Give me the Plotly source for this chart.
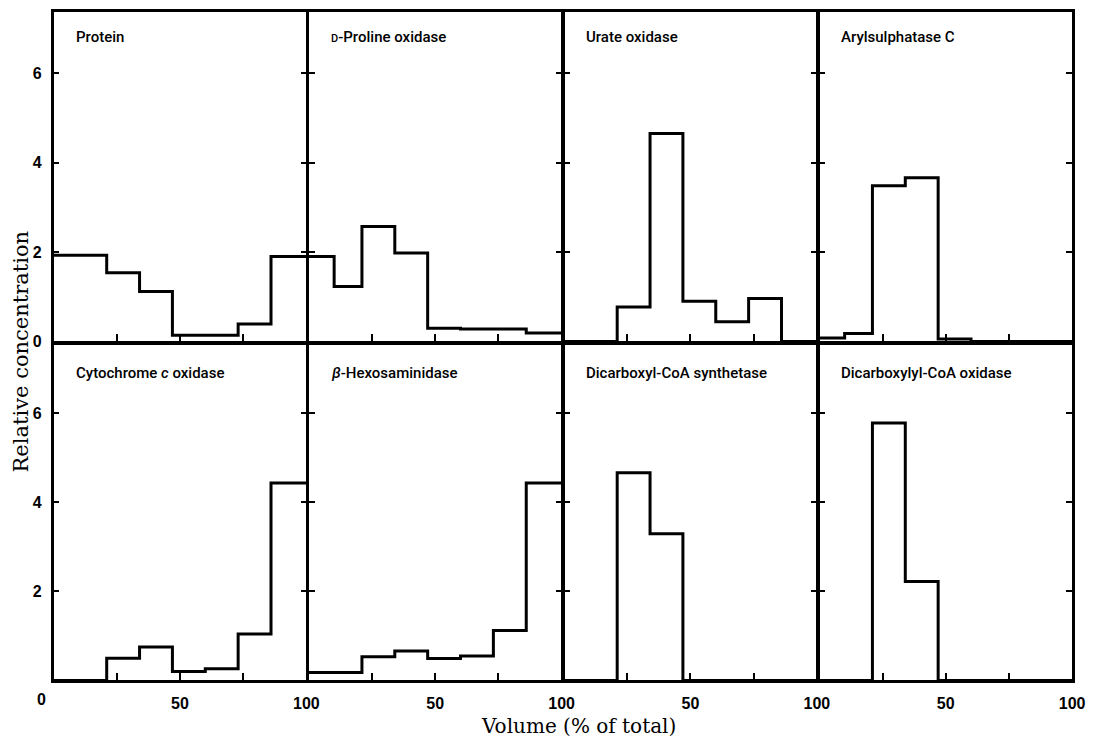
import plotly.graph_objects as go

# Fraction boundaries (% of total volume)
edges = [0, 10, 21, 34, 47, 60, 73, 86, 100]

panel_titles = [
    "Protein",
    "<span style='font-size:11px'>D</span>-Proline oxidase",
    "Urate oxidase",
    "Arylsulphatase C",
    "Cytochrome <i>c</i> oxidase",
    "<i>β</i>-Hexosaminidase",
    "Dicarboxyl-CoA synthetase",
    "Dicarboxylyl-CoA oxidase",
]

protein = [1.93, 1.93, 1.54, 1.12, 0.14, 0.14, 0.39, 1.90]
d_proline_oxidase = [1.90, 1.23, 2.57, 1.98, 0.30, 0.28, 0.28, 0.19]
urate_oxidase = [0, 0, 0.77, 4.65, 0.90, 0.44, 0.96, 0]
arylsulphatase_c = [0.08, 0.18, 3.48, 3.66, 0.06, 0, 0, 0]
cytochrome_c_oxidase = [0, 0, 0.50, 0.75, 0.20, 0.26, 1.04, 4.43]
hexosaminidase = [0.18, 0.18, 0.53, 0.66, 0.49, 0.55, 1.12, 4.43]
dicarboxyl_coa_synthetase = [0, 0, 4.66, 3.29, 0, 0, 0, 0]
dicarboxylyl_coa_oxidase = [0, 0, 5.78, 2.22, 0, 0, 0, 0]

series = [protein, d_proline_oxidase, urate_oxidase, arylsulphatase_c,
          cytochrome_c_oxidase, hexosaminidase, dicarboxyl_coa_synthetase,
          dicarboxylyl_coa_oxidase]

y_ticks = [0, 2, 4, 6]
x_ticks = [25, 50, 75, 100]
x_ticktext = ["", "50", "", "100"]

W, H = 1117, 745
LEFT, RIGHT = 53, 1086
TOP, MID, BOT = 11, 347, 690
LW = 2.5
pw = (RIGHT - LEFT) / 4

fig = go.Figure()
layout = dict(
    width=W, height=H, autosize=False,
    margin=dict(l=0, r=0, t=0, b=0, pad=0),
    paper_bgcolor="white", plot_bgcolor="white",
    showlegend=False,
    annotations=[],
)

tickfont = dict(family="Liberation Sans, Arial, sans-serif", size=16,
                color="black", weight="bold")
titlefont = dict(family="Roboto, Liberation Sans, Arial, sans-serif", size=15,
                 color="black", weight=500)
serif = dict(family="DejaVu Serif, serif", size=20, color="black")

for k in range(8):
    r, c = divmod(k, 4)
    n = k + 1
    xname = "xaxis" if n == 1 else f"xaxis{n}"
    yname = "yaxis" if n == 1 else f"yaxis{n}"
    xref = "x" if n == 1 else f"x{n}"
    yref = "y" if n == 1 else f"y{n}"
    px0 = LEFT + c * pw + LW / 2
    px1 = LEFT + (c + 1) * pw - LW / 2
    if r == 0:
        py0, py1 = TOP + LW / 2, MID - LW / 2
        yr = [0, 7.36]
    else:
        py0, py1 = MID + LW / 2, BOT - LW / 2
        yr = [0, 7.55]

    vals = series[k]
    fig.add_trace(go.Scatter(
        x=edges, y=vals + [vals[-1]], mode="lines", line_shape="hv",
        line=dict(color="black", width=3), xaxis=xref, yaxis=yref,
        hoverinfo="skip",
    ))

    layout[xname] = dict(
        domain=[px0 / W, px1 / W], anchor=yref, range=[0, 100],
        showgrid=False, zeroline=False,
        showline=True, linecolor="black", linewidth=LW, mirror=True,
        ticks="inside", ticklen=8, tickwidth=2, tickcolor="black",
        tickvals=x_ticks, ticktext=x_ticktext,
        showticklabels=(r == 1), tickfont=tickfont,
        ticklabelstandoff=7,
    )
    if c == 0:
        ytext = ["0", "2", "4", "6"] if r == 0 else ["", "2", "4", "6"]
    else:
        ytext = ["", "", "", ""]
    layout[yname] = dict(
        domain=[1 - py1 / H, 1 - py0 / H], anchor=xref, range=yr,
        showgrid=False, zeroline=False,
        showline=True, linecolor="black", linewidth=LW, mirror="ticks",
        ticks="inside", ticklen=6, tickwidth=2, tickcolor="black",
        tickvals=y_ticks, ticktext=ytext,
        showticklabels=(c == 0), tickfont=tickfont,
        ticklabelstandoff=6,
    )

    layout["annotations"].append(dict(
        text=panel_titles[k], xref=f"{xref} domain", yref=f"{yref} domain",
        x=0, y=1, xanchor="left", yanchor="middle",
        xshift=20, yshift=-(25 if r == 0 else 29),
        showarrow=False, font=titlefont,
    ))

# "0" label at the far left of the bottom-left x axis
layout["annotations"].append(dict(
    text="0", xref="x5", yref="paper", x=0, y=1 - 708 / H,
    xanchor="center", yanchor="middle", xshift=-12, showarrow=False,
    font=tickfont,
))

# Axis titles
layout["annotations"].append(dict(
    text="Relative concentration", xref="paper", yref="paper",
    x=21 / W, y=1 - 356 / H, xanchor="center", yanchor="middle",
    textangle=-90, showarrow=False, font=dict(serif, size=21),
))
layout["annotations"].append(dict(
    text="Volume (% of total)", xref="paper", yref="paper",
    x=585 / W, y=1 - 735 / H, xanchor="center", yanchor="middle",
    showarrow=False, font=serif,
))

fig.update_layout(**layout)
fig.write_html("out.html")
